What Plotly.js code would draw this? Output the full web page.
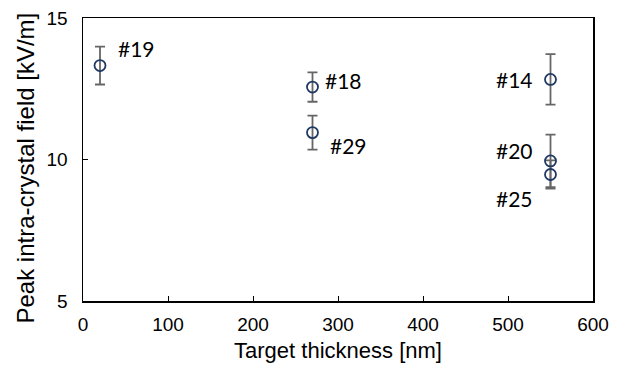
<!DOCTYPE html>
<html>
<head>
<meta charset="utf-8">
<script src="https://cdn.plot.ly/plotly-3.0.1.min.js"></script>
<style>html,body{margin:0;padding:0;background:#fff;}#chart{width:622px;height:367px;}</style>
</head>
<body>
<div id="chart"></div>
<script>
const sampleLabels = ['#19', '#18', '#29', '#14', '#20', '#25'];
const thicknessNm = [20, 270, 270, 550, 550, 550];
const peakField = [13.32, 12.56, 10.95, 12.83, 9.95, 9.47];
const fieldError = [0.67, 0.52, 0.6, 0.89, 0.93, 0.5];
const xTickVals = [0, 100, 200, 300, 400, 500, 600];
const yTickVals = [5, 10, 15];
const yTitle = 'Peak intra-crystal field [kV/m]';

// label offsets in px (style, not data)
const labelShift = [[36, 17], [31, 7], [36, -13], [-36, 0], [-36, 10], [-36, -24]];

const trace = {
  x: thicknessNm,
  y: peakField,
  mode: 'markers',
  type: 'scatter',
  marker: {symbol: 'circle-open', size: 11, color: '#1f3864', line: {width: 1.8, color: '#1f3864'}},
  error_y: {type: 'data', array: fieldError, visible: true, color: '#666666', thickness: 1.8, width: 5},
  hoverinfo: 'none',
  showlegend: false
};

const annotations = sampleLabels.map((t, i) => ({
  x: thicknessNm[i], y: peakField[i], xref: 'x', yref: 'y',
  text: t, showarrow: false,
  xshift: labelShift[i][0], yshift: labelShift[i][1],
  font: {family: 'Lato, "Open Sans", sans-serif', size: 21, color: '#000'}
}));
annotations.push({
  xref: 'paper', yref: 'paper', x: 0, y: 0.5, xanchor: 'center', yanchor: 'middle',
  xshift: -58, yshift: -9, textangle: -90, showarrow: false, text: yTitle,
  font: {family: '"Liberation Sans", Arial, sans-serif', size: 24, color: '#000'}
});

const layout = {
  width: 622, height: 367,
  margin: {l: 83, r: 29, t: 18, b: 66, pad: 0},
  paper_bgcolor: '#fff', plot_bgcolor: '#fff',
  font: {family: '"Liberation Sans", Arial, sans-serif', color: '#000'},
  xaxis: {
    range: [0, 600], tickvals: xTickVals, ticks: 'inside', ticklen: 5, tickwidth: 1, tickcolor: '#000',
    showline: true, linecolor: '#000', linewidth: 1.5, mirror: true, showgrid: false, zeroline: false,
    tickfont: {size: 19}, ticklabelstandoff: 6,
    title: {text: 'Target thickness [nm]', font: {size: 22}, standoff: 8}
  },
  yaxis: {
    range: [5, 15], tickvals: yTickVals, ticks: 'inside', ticklen: 5, tickwidth: 1, tickcolor: '#000',
    showline: true, linecolor: '#000', linewidth: 1.5, mirror: true, showgrid: false, zeroline: false,
    tickfont: {size: 19}, ticklabelstandoff: 10
  },
  annotations: annotations
};

Plotly.newPlot('chart', [trace], layout, {staticPlot: true, displayModeBar: false});
</script>
</body>
</html>
